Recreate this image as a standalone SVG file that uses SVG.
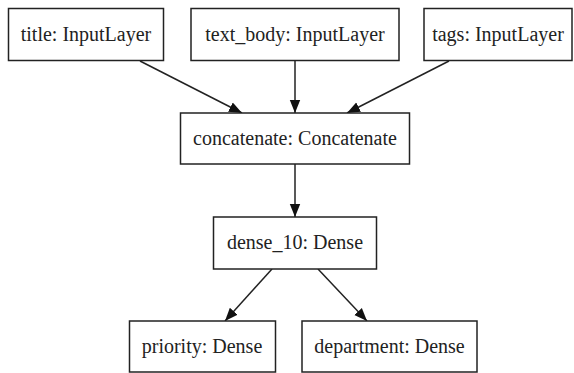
<svg xmlns="http://www.w3.org/2000/svg" width="574" height="373" viewBox="0 0 574 373">
<style>
.box{fill:#fff;stroke:#222;stroke-width:1.5}
.lbl{font-family:"Liberation Serif","Times New Roman",serif;font-size:20px;fill:#222;text-anchor:middle}
.edge{stroke:#222;stroke-width:1.5;fill:none;marker-end:url(#ah)}
</style>
<defs>
<marker id="ah" viewBox="0 0 10 10" refX="10" refY="5" markerWidth="13" markerHeight="13" markerUnits="userSpaceOnUse" orient="auto">
<path d="M0,1 L10,5 L0,9 z" fill="#111"/>
</marker>
</defs>
<rect width="574" height="373" fill="#fff"/>
<g id="connectors">
<line class="edge" x1="140" y1="61" x2="242" y2="113"/>
<line class="edge" x1="295" y1="61" x2="295" y2="113"/>
<line class="edge" x1="449" y1="61" x2="347" y2="113"/>
<line class="edge" x1="295" y1="164" x2="295" y2="217"/>
<line class="edge" x1="272" y1="269" x2="225" y2="321"/>
<line class="edge" x1="318" y1="269" x2="367" y2="321"/>
</g>
<g id="title">
<rect class="box" x="8.5" y="8.5" width="155" height="52"/>
<text class="lbl" x="86" y="41">title: InputLayer</text>
</g>
<g id="text_body">
<rect class="box" x="191" y="8.5" width="208" height="52"/>
<text class="lbl" x="295" y="41">text_body: InputLayer</text>
</g>
<g id="tags">
<rect class="box" x="424" y="8.5" width="148" height="52"/>
<text class="lbl" x="498" y="41">tags: InputLayer</text>
</g>
<g id="concatenate">
<rect class="box" x="180.5" y="113" width="229" height="51"/>
<text class="lbl" x="295" y="145">concatenate: Concatenate</text>
</g>
<g id="dense_10">
<rect class="box" x="213.5" y="217" width="163" height="52"/>
<text class="lbl" x="295" y="249">dense_10: Dense</text>
</g>
<g id="priority">
<rect class="box" x="129.5" y="321" width="146" height="51"/>
<text class="lbl" x="202" y="353">priority: Dense</text>
</g>
<g id="department">
<rect class="box" x="302" y="321" width="175" height="51"/>
<text class="lbl" x="389.5" y="353">department: Dense</text>
</g>
</svg>
